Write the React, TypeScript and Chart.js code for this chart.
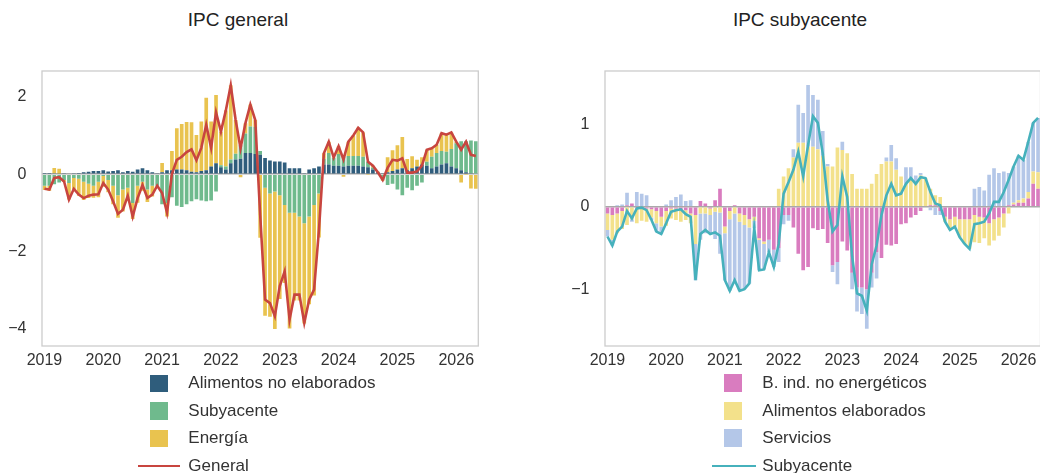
import React, { useEffect, useRef } from "react";
import { Chart, registerables } from "chart.js";

Chart.register(...registerables);

const FONT = '"Liberation Sans", Arial, Helvetica, sans-serif';
const TEXT = "#333333";

// ---------- categories ----------
const YEARS = ["2019", "2020", "2021", "2022", "2023", "2024", "2025", "2026"];
const MONTH_COUNT = 89; // Jan 2019 .. May 2026
const MONTHS: string[] = YEARS.flatMap((y) =>
  ["01", "02", "03", "04", "05", "06", "07", "08", "09", "10", "11", "12"].map((m) => `${y}-${m}`)
).slice(0, MONTH_COUNT);

// ---------- IPC general (left) ----------
const alimNoElaborados = [
  0.03, 0.03, 0.02, 0.01, 0.01, 0.0, 0.02, 0.03, 0.05, 0.06,
  0.08, 0.08, 0.1, 0.07, 0.08, 0.1, 0.05, 0.08, 0.06, 0.12,
  0.15, 0.1, 0.05, 0.02, 0.05, 0.1, 0.1, 0.12, 0.12, 0.1,
  0.06, 0.05, 0.08, 0.1, 0.2, 0.28, 0.18, 0.12, 0.28, 0.38,
  0.4, 0.55, 0.55, 0.52, 0.5, 0.42, 0.35, 0.33, 0.33, 0.3,
  0.15, 0.15, 0.15, 0.02, 0.12, 0.15, 0.2, 0.25, 0.25, 0.22,
  0.22, 0.2, 0.22, 0.22, 0.22, 0.2, 0.18, 0.12, 0.05, 0.02,
  0.05, 0.08, 0.12, 0.15, 0.1, 0.15, 0.2, 0.25, 0.22, 0.15,
  0.2, 0.25, 0.28, 0.2, 0.15, 0.1, 0.05, 0.02, 0.0,
];
const subyacenteContrib = [
  -0.3, -0.3, -0.26, -0.22, -0.15, -0.23, -0.1, -0.12, -0.2, -0.25,
  -0.3, -0.2, -0.05, -0.15, -0.3, -0.55, -0.4, -0.35, -0.75, -0.3,
  -0.2, -0.4, -0.3, -0.3, -0.78, -0.75, -0.6, -0.82, -0.85, -0.78,
  -0.7, -0.65, -0.68, -0.7, -0.68, -0.45, 0.05, 0.08, 0.1, 0.15,
  0.35, 0.5, 0.68, 0.7, 0.1, -0.35, -0.5, -0.45, -0.55, -0.8,
  -1.0, -1.0, -1.1, -1.27, -1.1, -0.8, -0.5, 0.15, 0.3, 0.2,
  0.3, 0.25, 0.25, 0.25, 0.25, 0.25, 0.15, 0.05, -0.02, -0.15,
  -0.28, -0.25, -0.4, -0.55, -0.35, -0.42, -0.3, -0.22, 0.1, 0.3,
  0.35, 0.35, 0.3, 0.45, 0.65, 0.75, 0.8, 0.85, 0.85,
];
const energia = [
  -0.11, -0.13, 0.14, 0.13, -0.05, -0.43, -0.3, -0.44, -0.47, -0.37,
  -0.31, -0.4, -0.28, -0.32, -0.48, -0.58, -0.57, -0.29, -0.41, -0.44,
  -0.23, -0.32, -0.28, -0.02, 0.24, -0.35, 0.5, 1.07, 1.18, 1.25,
  1.28, 0.96, 1.28, 1.88, 1.16, 1.77, 0.87, 1.45, 1.92, 0.87,
  -0.08, 0.27, 0.57, 0.18, -1.65, -3.32, -3.19, -3.56, -2.68, -2.02,
  -3.0, -2.27, -2.17, -2.6, -2.27, -2.34, -1.14, 0.14, 0.29, 0.01,
  0.2, -0.07, 0.37, 0.53, 0.73, 0.63, -0.01, 0.05, 0.02, -0.02,
  0.39, 0.54, 0.63, 0.81, 0.29, 0.31, 0.17, 0.19, 0.31, 0.22,
  0.21, 0.46, 0.44, 0.43, 0.04, -0.22, -0.01, -0.37, -0.38,
];
const generalIPC = [
  -0.38, -0.4, -0.1, -0.08, -0.19, -0.66, -0.38, -0.53, -0.62, -0.56,
  -0.53, -0.52, -0.23, -0.4, -0.7, -1.03, -0.92, -0.56, -1.1, -0.62,
  -0.28, -0.62, -0.53, -0.3, -0.49, -1.0, 0.0, 0.37, 0.45, 0.57,
  0.64, 0.36, 0.68, 1.28, 0.68, 1.6, 1.1, 1.65, 2.3, 1.4,
  0.67, 1.32, 1.8, 1.4, -1.05, -3.25, -3.34, -3.68, -2.9, -2.52,
  -3.77, -3.12, -3.12, -3.85, -3.25, -2.99, -1.44, 0.54, 0.84, 0.43,
  0.72, 0.38, 0.84, 1.0, 1.2, 1.08, 0.32, 0.22, 0.05, -0.15,
  0.16, 0.37, 0.35, 0.41, 0.04, 0.04, 0.07, 0.22, 0.63, 0.67,
  0.76, 1.06, 1.02, 1.08, 0.84, 0.63, 0.84, 0.5, 0.47,
];

// ---------- IPC subyacente (right) ----------
const bIndNoEnergeticos = [
  -0.08, -0.1, -0.08, -0.05, 0.02, 0.04, -0.02, 0.01, -0.02, -0.03,
  -0.05, -0.12, -0.05, -0.02, -0.02, -0.03, -0.04, -0.08, -0.1, 0.07,
  0.04, -0.02, 0.08, 0.22, -0.24, -0.05, 0.02, -0.08, -0.1, -0.15,
  -0.12, -0.38, -0.42, -0.4, -0.52, -0.5, -0.1, -0.1, -0.25, -0.57,
  -0.77, -0.73, -0.26, -0.28, -0.27, -0.44, -0.71, -0.67, -0.42, -0.53,
  -0.8, -0.98, -0.98, -1.0, -0.8, -0.55, -0.62, -0.46, -0.47, -0.45,
  -0.21, -0.2, -0.13, -0.1, -0.05, 0.0, 0.02, 0.02, -0.05, -0.12,
  -0.15, -0.12, -0.15, -0.15, -0.15, -0.1, -0.12, -0.13, -0.2, -0.15,
  -0.13, -0.08, 0.02, 0.03, 0.05, 0.05, 0.1, 0.28, 0.22,
];
const alimElaborados = [
  -0.2, -0.3, -0.24, -0.22, -0.22, -0.15, -0.18, -0.17, -0.16, -0.1,
  -0.15, -0.12, -0.18, -0.12, -0.14, -0.15, -0.12, -0.12, -0.35, -0.08,
  -0.08, -0.08, -0.06, -0.07, -0.08, -0.1, -0.08, -0.1, -0.12, -0.1,
  -0.05, -0.02, -0.03, 0.0, 0.0, 0.22, 0.37, 0.47, 0.6, 0.78,
  0.78, 0.73, 0.73, 0.7, 0.62, 0.49, 0.49, 0.72, 0.69, 0.65,
  0.4, 0.22, 0.22, 0.22, 0.28, 0.4, 0.52, 0.55, 0.55, 0.45,
  0.37, 0.28, 0.33, 0.3, 0.38, 0.35, 0.2, 0.12, 0.12, -0.06,
  -0.13, -0.12, -0.22, -0.3, -0.36, -0.33, -0.32, -0.25, -0.27, -0.26,
  -0.22, -0.17, -0.08, 0.02, 0.03, 0.05, 0.08, 0.15, 0.2,
];
const servicios = [
  -0.08, -0.07, 0.02, 0.03, 0.15, -0.03, 0.18, 0.15, 0.14, -0.03,
  -0.1, -0.09, 0.03, 0.08, 0.12, 0.15, 0.07, 0.08, -0.44, -0.32,
  -0.24, -0.23, -0.33, -0.5, -0.57, -0.87, -0.83, -0.84, -0.78, -0.68,
  -0.09, -0.37, -0.31, -0.15, -0.21, -0.17, -0.11, -0.07, 0.1, 0.46,
  0.36, 0.75, 0.63, 0.6, 0.3, 0.03, -0.08, -0.27, 0.1, 0.0,
  -0.2, -0.29, -0.32, -0.48, -0.18, -0.32, 0.0, 0.05, 0.2, 0.14,
  0.0, 0.2, 0.15, 0.08, 0.03, 0.0, -0.04, -0.1, -0.05, 0.0,
  0.0, 0.0, 0.0, 0.0, 0.0, 0.22, 0.24, 0.2, 0.39, 0.47,
  0.41, 0.43, 0.39, 0.44, 0.54, 0.47, 0.61, 0.59, 0.66,
];
const subyacenteIPC = [
  -0.36, -0.47, -0.3, -0.24, -0.05, -0.14, -0.02, -0.01, -0.04, -0.16,
  -0.3, -0.33, -0.2, -0.06, -0.04, -0.03, -0.09, -0.12, -0.89, -0.33,
  -0.28, -0.33, -0.31, -0.35, -0.89, -1.02, -0.89, -1.02, -1.0, -0.93,
  -0.26, -0.77, -0.76, -0.55, -0.73, -0.45, 0.16, 0.3, 0.45, 0.67,
  0.37, 0.75, 1.1, 1.02, 0.65, 0.08, -0.3, -0.22, 0.37, 0.12,
  -0.6, -1.05, -1.08, -1.26, -0.7, -0.47, -0.1, 0.14, 0.28, 0.14,
  0.16, 0.28, 0.35, 0.28, 0.36, 0.35, 0.18, 0.04, 0.02, -0.18,
  -0.28, -0.24, -0.37, -0.45, -0.51, -0.21, -0.2, -0.18, -0.08, 0.06,
  0.06, 0.18, 0.33, 0.49, 0.62, 0.57, 0.79, 1.02, 1.08,
];

const LEFT_Y_TICKS = [-4, -2, 0, 2];
const RIGHT_Y_TICKS = [-1, 0, 1];

type Series = { label: string; data: number[]; color: string };

interface PanelSpec {
  title: string;
  titleCenter: number;
  canvasLeft: number;
  canvasWidth: number;
  yAxisWidth: number;
  padRight: number;
  yMin: number;
  yMax: number;
  yTicks: number[];
  bars: Series[];
  line: Series;
  legendX: { lineStart: number; lineEnd: number; boxStart: number; box: number; text: number };
}

const LEFT: PanelSpec = {
  title: "IPC general",
  titleCenter: 238,
  canvasLeft: 0,
  canvasWidth: 520,
  yAxisWidth: 42,
  padRight: 41.7,
  yMin: -4.45,
  yMax: 2.67,
  yTicks: LEFT_Y_TICKS,
  bars: [
    { label: "Alimentos no elaborados", data: alimNoElaborados, color: "#2f5d7c" },
    { label: "Subyacente", data: subyacenteContrib, color: "#6fba8d" },
    { label: "Energía", data: energia, color: "#e9c34f" },
  ],
  line: { label: "General", data: generalIPC, color: "#c8453f" },
  legendX: { lineStart: 137.7, lineEnd: 180, boxStart: 150, box: 17.5, text: 188.3 },
};

const RIGHT: PanelSpec = {
  title: "IPC subyacente",
  titleCenter: 800,
  canvasLeft: 520,
  canvasWidth: 522,
  yAxisWidth: 85,
  padRight: 1.5,
  yMin: -1.69,
  yMax: 1.65,
  yTicks: RIGHT_Y_TICKS,
  bars: [
    { label: "B. ind. no energéticos", data: bIndNoEnergeticos, color: "#d97cbf" },
    { label: "Alimentos elaborados", data: alimElaborados, color: "#f3e18b" },
    { label: "Servicios", data: servicios, color: "#b4c7e8" },
  ],
  line: { label: "Subyacente", data: subyacenteIPC, color: "#46b1bc" },
  legendX: { lineStart: 711.7, lineEnd: 755.7, boxStart: 724.3, box: 18, text: 762.3 },
};

const PLOT_TOP = 71;
const PLOT_BOTTOM = 346;
const HEIGHT = 473;
const X_AXIS_H = 20;

const fmt = (v: number) => (v < 0 ? "\u2212" + Math.abs(v) : String(v));

const framePlugin = {
  id: "frame",
  afterDatasetsDraw(chart: any) {
    const { ctx, chartArea } = chart;
    ctx.save();
    ctx.strokeStyle = "#cccccc";
    ctx.lineWidth = 1.3;
    ctx.strokeRect(chartArea.left, chartArea.top, chartArea.right - chartArea.left, chartArea.bottom - chartArea.top);
    ctx.restore();
  },
};

function Panel({ spec }: { spec: PanelSpec }) {
  const ref = useRef<HTMLCanvasElement | null>(null);
  useEffect(() => {
    if (!ref.current) return;
    const chart = new Chart(ref.current, {
      type: "bar",
      data: {
        labels: MONTHS,
        datasets: [
          ...spec.bars.map((b) => ({
            type: "bar" as const,
            label: b.label,
            data: b.data,
            backgroundColor: b.color,
            borderWidth: 0,
            barPercentage: 0.75,
            categoryPercentage: 1,
            stack: "contrib",
            order: 1,
          })),
          {
            type: "line" as const,
            label: spec.line.label,
            data: spec.line.data,
            borderColor: spec.line.color,
            backgroundColor: spec.line.color,
            borderWidth: 2.6,
            pointRadius: 0,
            tension: 0,
            fill: false,
            stack: "line",
            order: 0,
          },
        ],
      } as any,
      options: {
        responsive: false,
        animation: false,
        events: [],
        layout: {
          padding: {
            left: 0,
            right: spec.padRight,
            top: PLOT_TOP,
            bottom: HEIGHT - PLOT_BOTTOM - X_AXIS_H,
          },
        },
        plugins: {
          legend: { display: false },
          tooltip: { enabled: false },
          title: { display: false },
        },
        scales: {
          x: {
            type: "category",
            stacked: true,
            offset: true,
            grid: { display: false, drawTicks: false },
            border: { display: false },
            ticks: {
              autoSkip: false,
              maxRotation: 0,
              minRotation: 0,
              padding: 5,
              color: TEXT,
              font: { family: FONT, size: 16 },
              callback: (v: any) => MONTHS[Number(v)].slice(0, 4),
            },
            afterBuildTicks: (s: any) => {
              s.ticks = s.ticks.filter((t: any) => MONTHS[t.value].endsWith("-01"));
            },
            afterFit: (s: any) => {
              s.height = X_AXIS_H;
            },
          },
          y: {
            type: "linear",
            stacked: true,
            min: spec.yMin,
            max: spec.yMax,
            grid: {
              drawTicks: false,
              lineWidth: 1.5,
              color: (ctx: any) => (ctx.tick && ctx.tick.value === 0 ? "#a9a9a9" : "rgba(0,0,0,0)"),
            },
            border: { display: false },
            ticks: {
              padding: 15.5,
              color: TEXT,
              font: { family: FONT, size: 16 },
              callback: (v: any) => fmt(Number(v)),
            },
            afterBuildTicks: (s: any) => {
              s.ticks = spec.yTicks.map((v) => ({ value: v }));
            },
            afterFit: (s: any) => {
              s.width = spec.yAxisWidth;
            },
          },
        },
      } as any,
      plugins: [framePlugin],
    });
    return () => chart.destroy();
  }, [spec]);

  const rows = [
    ...spec.bars.map((b) => ({ label: b.label, color: b.color, kind: "box" })),
    { label: spec.line.label, color: spec.line.color, kind: "line" },
  ];
  const lx = spec.legendX;

  return (
    <>
      <div
        style={{
          position: "absolute",
          left: spec.titleCenter - 150,
          width: 300,
          top: 8,
          height: 24,
          lineHeight: "24px",
          textAlign: "center",
          fontFamily: FONT,
          fontSize: 19,
          color: "#222222",
        }}
      >
        {spec.title}
      </div>
      <canvas
        ref={ref}
        width={spec.canvasWidth}
        height={HEIGHT}
        style={{
          position: "absolute",
          left: spec.canvasLeft,
          top: 0,
          width: spec.canvasWidth,
          height: HEIGHT,
        }}
      />
      {rows.map((r, k) => {
        const cy = 383.3 + 27.55 * k;
        return (
          <React.Fragment key={r.label}>
            {r.kind === "box" ? (
              <div
                style={{
                  position: "absolute",
                  left: lx.boxStart,
                  top: cy - lx.box / 2,
                  width: lx.box,
                  height: lx.box,
                  background: r.color,
                }}
              />
            ) : (
              <div
                style={{
                  position: "absolute",
                  left: lx.lineStart,
                  top: cy - 1.3,
                  width: lx.lineEnd - lx.lineStart,
                  height: 2.6,
                  background: r.color,
                }}
              />
            )}
            <div
              style={{
                position: "absolute",
                left: lx.text,
                top: cy - 12,
                height: 24,
                lineHeight: "24px",
                whiteSpace: "nowrap",
                fontFamily: FONT,
                fontSize: 17,
                color: TEXT,
              }}
            >
              {r.label}
            </div>
          </React.Fragment>
        );
      })}
    </>
  );
}

export default function App() {
  return (
    <div
      style={{
        position: "absolute",
        left: 0,
        top: 0,
        width: 1040,
        height: HEIGHT,
        overflow: "hidden",
        background: "#ffffff",
      }}
    >
      <Panel spec={LEFT} />
      <Panel spec={RIGHT} />
    </div>
  );
}
